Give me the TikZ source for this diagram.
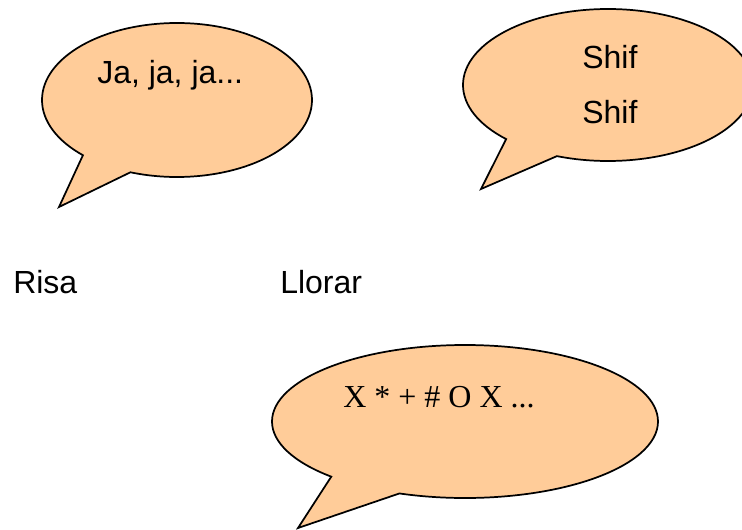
\documentclass[tikz,border=0pt]{standalone}
\usepackage{fontspec}
\setmainfont{Liberation Sans}
\newfontfamily\timesfont{Liberation Serif}
\usetikzlibrary{shapes.callouts}

\definecolor{peach}{RGB}{255,204,153}
\tikzset{
	bubble/.style={ellipse callout,draw=black,line width=1.3pt,fill=peach,inner sep=0pt,outer sep=0pt,callout pointer arc=24},
	txt/.style={anchor=base west,inner sep=0pt,font=\fontsize{24}{28}\selectfont}
}

\begin{document}
\begin{tikzpicture}[x=0.75pt,y=-0.75pt]
		\useasboundingbox (0,0) rectangle (742,529);
		\clip (0,0) rectangle (742,529);
		
		% tips of the bubbles
		\coordinate(P1) at (59,207);
		\coordinate(P2) at (481,189);
		\coordinate(P3) at (298,528);
		
		\node[bubble,minimum width=202.5pt,minimum height=115.5pt,callout absolute pointer=(P1)](S1) at (177,100){};
		\node[bubble,minimum width=217.5pt,minimum height=114pt,callout absolute pointer=(P2)](S2) at (608,85){};
		\node[bubble,minimum width=289.5pt,minimum height=114.75pt,callout absolute pointer=(P3)](S3) at (465,421.5){};
		
		\node[txt](T1) at (97,83){Ja, ja, ja...};
		\node[txt](T2) at (582,68){Shif};
		\node[txt](T3) at (582,123){Shif};
		\node[txt,font=\timesfont\fontsize{24}{28}\selectfont](T4) at (343,407){X * + \# O X ...};
		
		\node[txt](R) at (13,293){Risa};
		\node[txt](L) at (280,293){Llorar};
\end{tikzpicture}
\end{document}
